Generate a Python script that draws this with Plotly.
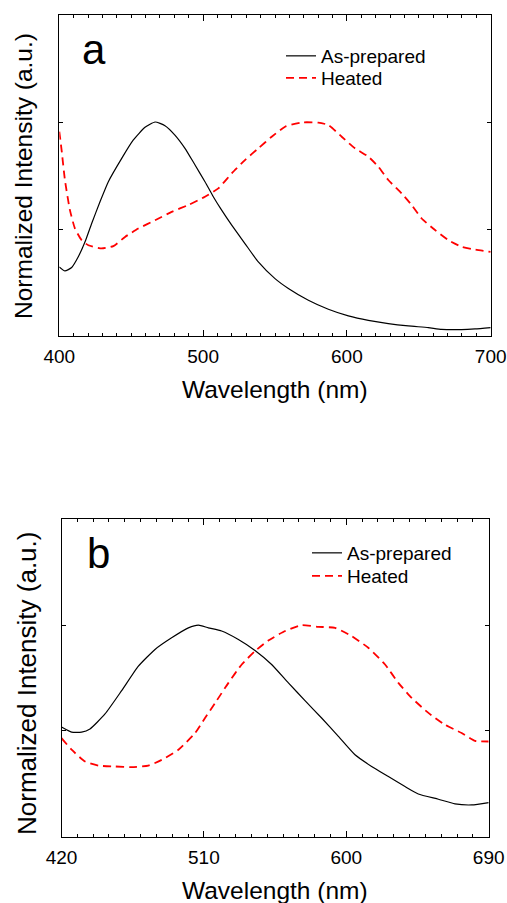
import plotly.graph_objects as go

W, H = 507, 903

# ---------------- Panel a data ----------------
a_prep_x = [400, 403.9, 408.6, 413.2, 417.9, 422.5, 428.3, 434.1, 443.4, 451.5, 459.6, 466.6,
            473.5, 480.4, 487.4, 494.4, 501.3, 507.1, 512.9, 519.9, 529.1, 538.4, 550, 559.3,
            573.2, 587.1, 601, 614.9, 628.8, 642.7, 656.6, 665.9, 679.8, 689.1, 700]
a_prep_y = [0.323, 0.304, 0.32, 0.37, 0.44, 0.526, 0.627, 0.721, 0.83, 0.916, 0.975, 1.0,
            0.983, 0.939, 0.877, 0.799, 0.721, 0.651, 0.588, 0.518, 0.432, 0.346, 0.268, 0.222,
            0.167, 0.125, 0.094, 0.073, 0.058, 0.047, 0.039, 0.031, 0.03, 0.033, 0.039]

a_heat_x = [400, 401.6, 403.9, 407.4, 410.9, 415.5, 420.2, 429.4, 437.6, 445.7, 454.9, 466.6,
            478.1, 489.7, 501.3, 510.6, 519.9, 529.1, 538.4, 547.7, 557, 568.5, 580.1, 587.1,
            596.4, 605.6, 614.9, 621.9, 628.8, 638.1, 645, 652, 661.3, 670.5, 679.8, 689.1, 700]
a_heat_y = [0.955, 0.869, 0.729, 0.588, 0.502, 0.448, 0.424, 0.409, 0.42, 0.463, 0.502, 0.541,
            0.58, 0.612, 0.651, 0.69, 0.76, 0.822, 0.877, 0.931, 0.978, 0.998, 0.997, 0.986,
            0.931, 0.877, 0.838, 0.791, 0.729, 0.666, 0.612, 0.549, 0.495, 0.448, 0.417, 0.404, 0.393]

# ---------------- Panel b data ----------------
b_prep_x = [420, 426.4, 432.7, 438, 447.5, 458, 468.6, 479.1, 489.6, 500.2, 506.5, 512.8,
            521.2, 531.8, 542.3, 552.8, 563.4, 573.9, 584.4, 595, 605.5, 616, 626.6, 637.1,
            645.5, 658.2, 668.7, 679.3, 690]
b_prep_y = [0.518, 0.494, 0.494, 0.509, 0.58, 0.69, 0.806, 0.885, 0.94, 0.987, 1.0, 0.987,
            0.972, 0.932, 0.88, 0.814, 0.727, 0.643, 0.561, 0.474, 0.387, 0.332, 0.284, 0.237,
            0.202, 0.177, 0.155, 0.15, 0.161]

b_heat_x = [420, 426.4, 434.9, 443.3, 453.8, 464.4, 474.9, 483.3, 493.9, 504.4, 510.7, 517.1,
            525.5, 533.9, 542.3, 550.7, 561.3, 571.8, 582.3, 592.9, 603.4, 613.9, 624.5, 632.9,
            641.3, 651.9, 662.4, 672.9, 681.4, 690]
b_heat_y = [0.466, 0.411, 0.355, 0.336, 0.332, 0.329, 0.336, 0.363, 0.411, 0.49, 0.561, 0.632,
            0.727, 0.814, 0.877, 0.927, 0.972, 1.0, 0.992, 0.987, 0.948, 0.893, 0.814, 0.727,
            0.656, 0.585, 0.529, 0.49, 0.453, 0.45]

a_xticks = [400, 500, 600, 700]
b_xticks = [420, 510, 600, 690]
y_ticks = [0, 0.5, 1.0, 1.5]
series_names = ["As-prepared", "Heated"]
panel_labels = ["a", "b"]
x_title = "Wavelength (nm)"
y_title = "Normalized Intensity (a.u.)"

FONT = "Arial, 'Liberation Sans', sans-serif"

def px_x(p):
    return p / W

def px_y(p):
    return 1 - p / H

fig = go.Figure()

black = dict(color="black", width=1.2, shape="spline", smoothing=0.5)
red = dict(color="#ff0000", width=1.8, dash="8px,5px", shape="spline", smoothing=0.5)

fig.add_trace(go.Scatter(x=a_prep_x, y=a_prep_y, mode="lines", line=black, name=series_names[0],
                         xaxis="x", yaxis="y", legend="legend"))
fig.add_trace(go.Scatter(x=a_heat_x, y=a_heat_y, mode="lines", line=red, name=series_names[1],
                         xaxis="x", yaxis="y", legend="legend2"))
fig.add_trace(go.Scatter(x=b_prep_x, y=b_prep_y, mode="lines", line=black, name=series_names[0],
                         xaxis="x2", yaxis="y2", legend="legend3"))
fig.add_trace(go.Scatter(x=b_heat_x, y=b_heat_y, mode="lines", line=red, name=series_names[1],
                         xaxis="x2", yaxis="y2", legend="legend4"))

def xaxis(domain, rng, ticks, anchor):
    return dict(domain=domain, range=rng, tickvals=ticks, ticks="inside", ticklen=6,
                tickwidth=1, tickcolor="black", showline=True, linecolor="black", linewidth=1,
                mirror="allticks", showgrid=False, zeroline=False, anchor=anchor,
                tickfont=dict(family=FONT, size=19, color="black"), ticklabelstandoff=3,
                minor=dict(dtick=10, ticks="inside", ticklen=3, tickcolor="black", showgrid=False),
                automargin=False, fixedrange=True)

def yaxis(domain, anchor):
    return dict(domain=domain, range=[0, 1.5], tickvals=y_ticks, ticks="inside", ticklen=4,
                tickcolor="black", showticklabels=False, showline=True, linecolor="black",
                linewidth=1, mirror="allticks", showgrid=False, zeroline=False, anchor=anchor,
                automargin=False, fixedrange=True)

legend_common = dict(bgcolor="rgba(0,0,0,0)", borderwidth=0, xanchor="left", yanchor="middle",
                     font=dict(family=FONT, size=19, color="black"), itemwidth=30)

fig.update_layout(
    width=W, height=H,
    margin=dict(l=0, r=0, t=0, b=0),
    paper_bgcolor="white", plot_bgcolor="white",
    showlegend=True,
    xaxis=xaxis([px_x(59.3), px_x(490.7)], [400, 700], a_xticks, "y"),
    yaxis=yaxis([px_y(336), px_y(15)], "x"),
    xaxis2=xaxis([px_x(61.5), px_x(488.7)], [420, 690], b_xticks, "y2"),
    yaxis2=yaxis([px_y(836.7), px_y(519.3)], "x2"),
    legend=dict(x=px_x(281), y=px_y(56), **legend_common),
    legend2=dict(x=px_x(281), y=px_y(78), **legend_common),
    legend3=dict(x=px_x(307), y=px_y(553), **legend_common),
    legend4=dict(x=px_x(307), y=px_y(576), **legend_common),
)

annots = [
    dict(text=panel_labels[0], x=px_x(94), y=px_y(50), font=dict(size=42)),
    dict(text=panel_labels[1], x=px_x(98), y=px_y(553), font=dict(size=42)),
    dict(text=x_title, x=px_x(275), y=px_y(390), font=dict(size=24.5)),
    dict(text=x_title, x=px_x(275), y=px_y(890), font=dict(size=24.5)),
    dict(text=y_title, x=px_x(24), y=px_y(176), font=dict(size=24.5), textangle=-90),
    dict(text=y_title, x=px_x(27), y=px_y(684), font=dict(size=26), textangle=-90),
]
for a in annots:
    a["font"].update(family=FONT, color="black")
    fig.add_annotation(xref="paper", yref="paper", showarrow=False, xanchor="center",
                       yanchor="middle", **a)

fig.write_html("out.html", config={"displayModeBar": False},
               post_script="document.body.style.margin='0';document.body.style.overflow='hidden';")
